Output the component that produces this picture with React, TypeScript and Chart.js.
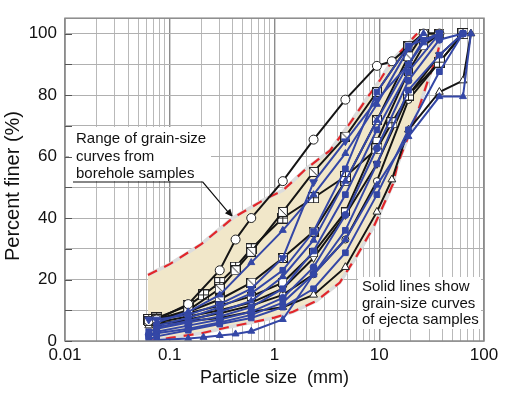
import React, { useEffect, useRef } from 'react';
import { Chart, registerables } from 'chart.js';
Chart.register(...registerables);

// ---- Range of grain-size curves from borehole samples (band) ----
const bandUpperX = [0.062, 0.1, 0.2, 0.4, 0.8, 1.2, 1.5, 2, 3.4, 5.3, 8, 10, 13.5, 18, 23];
const bandUpperY = [21.5, 25, 31.5, 40, 46, 49, 52, 56, 62, 71, 80, 84.5, 91.5, 96, 100];
const bandLowerX = [0.062, 0.1, 0.2, 0.35, 0.6, 1, 1.5, 2.5, 4.2, 6.1, 8.8, 13.5, 15, 19.7, 23.5, 30, 35, 40];
const bandLowerY = [0, 1, 2.5, 4.4, 6, 7.6, 9.5, 13, 19, 27.7, 37, 51, 57.6, 68, 75, 86, 92, 100];

// ---- Ejecta samples (black lines, white markers) ----
const k1X = [0.063, 0.075, 0.15, 0.3, 0.425, 0.6, 1.2, 2.36, 4.75, 9.5, 13.2, 26.5, 37.5];
const k1Y = [6.5, 7, 12, 23, 33, 40, 52, 65.5, 78.5, 89.5, 91, 100, 100];
const k2X = [0.063, 0.075, 0.15, 0.3, 0.425, 0.6, 1.2, 2.36, 4.75, 9.5, 19, 26.5, 37.5];
const k2Y = [6.5, 7, 10, 17, 23, 29, 42, 55, 66.5, 81, 96, 100, 100];
const k3X = [0.063, 0.075, 0.15, 0.21, 0.3, 0.425, 0.6, 1.2, 2.36, 4.75, 9.5, 13.2, 19, 37.5, 63];
const k3Y = [7, 7.5, 11.5, 15, 19, 24, 30, 40, 46.6, 53.5, 62.5, 71, 80, 90.7, 100];
const k4X = [0.063, 0.075, 0.15, 0.3, 0.6, 1.2, 2.36, 4.75, 9.5, 13.2, 19, 37.5, 63, 75];
const k4Y = [5, 5.5, 6.5, 7.5, 9.5, 11, 15, 24, 42, 52.5, 68.7, 81, 84.7, 100];
const k5X = [0.063, 0.075, 0.15, 0.3, 0.6, 1.2, 2.36, 4.75, 9.5, 19, 26.5, 37.5];
const k5Y = [6.5, 7, 9, 11.5, 14.5, 19, 28.7, 42, 65, 87.6, 96, 100];
const k6X = [0.075, 0.15, 0.3, 0.6, 1.2, 2.36, 4.75, 9.5, 19, 37.5, 63];
const k6Y = [6, 8, 10, 12.5, 17, 27, 41, 57.6, 80, 93, 100];
const k7X = [0.075, 0.15, 0.3, 0.6, 1.2, 2.36, 4.75, 9.5, 19, 37.5, 63];
const k7Y = [5.5, 7, 9, 11.5, 15, 21.7, 33, 52, 78.4, 90.7, 100];
const k8X = [0.075, 0.15, 0.3, 0.6, 1.2, 2.36, 4.75, 9.5, 19, 26.5];
const k8Y = [6.5, 9.5, 13.5, 19, 27, 35.6, 52, 71.8, 92.6, 100];

// ---- Ejecta samples (blue lines, blue markers) ----
const u1X = [0.063, 0.075, 0.15, 0.21, 0.3, 0.425, 0.6, 1.2, 2.36, 4.75, 9.5, 19, 37.5, 63, 75];
const u1Y = [0, 0.3, 0.8, 1.2, 1.8, 2.3, 3.2, 7, 21.7, 33, 50.7, 66.5, 79.5, 79.5, 100];
const u2X = [0.063, 0.075, 0.15, 0.3, 0.6, 1.2, 2.36, 4.75, 9.5, 19, 37.5, 63];
const u2Y = [0.5, 1.5, 3.5, 5.5, 7.5, 11, 17, 28.7, 47.6, 68.7, 87.6, 100];
const u3X = [0.063, 0.075, 0.15, 0.3, 0.6, 1.2, 2.36, 4.75, 9.5, 19, 26.5, 37.5];
const u3Y = [7, 7, 8.5, 12, 17, 27, 51.7, 65, 78.4, 90, 98, 100];
const u4X = [0.075, 0.15, 0.3, 0.6, 1.2, 2.36, 4.75, 9.5, 19, 26.5];
const u4Y = [6, 9.5, 15, 25.5, 36, 47.6, 61, 77, 95, 100];
const u5X = [0.063, 0.075, 0.15, 0.3, 0.6, 1.2, 2.36, 4.75, 9.5, 19, 37.5];
const u5Y = [3, 4, 6, 8, 11, 17, 29.3, 47.6, 68.7, 87.6, 100];
const u6X = [0.063, 0.075, 0.15, 0.3, 0.6, 1.2, 2.36, 4.75, 9.5, 19, 37.5, 63];
const u6Y = [2, 3, 5, 7, 9.5, 14, 24, 41, 62.7, 84.7, 98, 100];
const u7X = [0.063, 0.075, 0.15, 0.3, 0.6, 1.2, 2.36, 4.75, 9.5, 19, 37.5, 63];
const u7Y = [1.5, 2.5, 4, 6, 8.5, 12.5, 21.7, 36, 57.6, 81.6, 93, 100];
const u8X = [0.075, 0.15, 0.3, 0.6, 1.2, 2.36, 4.75, 9.5, 19, 26.5, 37.5];
const u8Y = [4.5, 6.5, 9.5, 13, 21, 32.8, 52, 71.8, 90, 97, 100];
const u9X = [0.075, 0.15, 0.3, 0.6, 1.2, 2.36, 4.75, 9.5, 19, 37.5];
const u9Y = [5, 7.5, 11, 15.5, 23, 35.6, 56, 81, 96, 100];

// ---- Axis / text ----
const yTickValues = [0, 10, 20, 30, 40, 50, 60, 70, 80, 90, 100];
const xDecades = [-2, -1, 0, 1];
const note1 = ['Range of grain-size', 'curves from', 'borehole samples'];
const note2 = ['Solid lines show', 'grain-size curves', 'of ejecta samples'];
const xTitle = 'Particle size  (mm)';
const yTitle = 'Percent finer (%)';

const FONT = '"Liberation Sans", Arial, Helvetica, sans-serif';
const BLACK = '#151515';
const BLUE = '#3447a6';

const pts = (xs: number[], ys: number[]) => xs.map((x, i) => ({ x, y: ys[i] }));
const isPow10 = (v: number) => Math.abs(Math.log10(v) - Math.round(Math.log10(v))) < 1e-6;

function makeSquare(kind: 'cross' | 'diag' | 'plain', size: number): HTMLCanvasElement {
  const c = document.createElement('canvas');
  c.width = size;
  c.height = size;
  const g = c.getContext('2d')!;
  g.fillStyle = '#fff';
  g.fillRect(0.5, 0.5, size - 1, size - 1);
  g.strokeStyle = '#222';
  g.lineWidth = 1;
  g.strokeRect(0.5, 0.5, size - 1, size - 1);
  g.beginPath();
  if (kind === 'cross') {
    g.moveTo(size / 2, 0.5);
    g.lineTo(size / 2, size - 0.5);
    g.moveTo(0.5, size / 2);
    g.lineTo(size - 0.5, size / 2);
  } else if (kind === 'diag') {
    g.moveTo(1, 1);
    g.lineTo(size - 1, size - 1);
  }
  g.stroke();
  return c;
}

export default function App() {
  const ref = useRef<HTMLCanvasElement>(null);

  useEffect(() => {
    if (!ref.current) return;
    const sqCross = makeSquare('cross', 11);
    const sqDiag = makeSquare('diag', 10);
    const sqPlain = makeSquare('plain', 9);

    const black = (xs: number[], ys: number[], style: any, rot = 0, r = 4.5) => ({
      data: pts(xs, ys),
      showLine: true,
      borderColor: BLACK,
      borderWidth: 2,
      pointStyle: style,
      pointRotation: rot,
      pointRadius: r,
      pointBackgroundColor: '#fff',
      pointBorderColor: '#222',
      pointBorderWidth: 1,
      order: 1,
    });
    const blue = (xs: number[], ys: number[], style: any, rot = 0, r = 4) => ({
      data: pts(xs, ys),
      showLine: true,
      borderColor: BLUE,
      borderWidth: 2,
      pointStyle: style,
      pointRotation: rot,
      pointRadius: r,
      pointBackgroundColor: BLUE,
      pointBorderColor: BLUE,
      pointBorderWidth: 1,
      order: 0,
    });

    const bandPoly = [...pts(bandUpperX, bandUpperY), ...pts(bandLowerX, bandLowerY).reverse()];

    const datasets: any[] = [
      {
        data: bandPoly,
        showLine: true,
        fill: 'shape',
        backgroundColor: '#f1e7c9',
        borderWidth: 0,
        borderColor: 'rgba(0,0,0,0)',
        pointRadius: 0,
        order: 10,
      },
      {
        data: pts(bandUpperX, bandUpperY),
        showLine: true,
        borderColor: '#dcdcdc',
        borderWidth: 3.5,
        pointRadius: 0,
        order: 9,
      },
      {
        data: pts(bandLowerX, bandLowerY),
        showLine: true,
        borderColor: '#dcdcdc',
        borderWidth: 3.5,
        pointRadius: 0,
        order: 9,
      },
      {
        data: pts(bandUpperX, bandUpperY),
        showLine: true,
        borderColor: '#e2262a',
        borderWidth: 2.2,
        borderDash: [10, 8],
        pointRadius: 0,
        order: 8,
      },
      {
        data: pts(bandLowerX, bandLowerY),
        showLine: true,
        borderColor: '#e2262a',
        borderWidth: 2.2,
        borderDash: [10, 8],
        pointRadius: 0,
        order: 8,
      },
      black(k1X, k1Y, 'circle'),
      black(k2X, k2Y, sqDiag),
      black(k3X, k3Y, sqCross),
      black(k4X, k4Y, 'triangle'),
      black(k5X, k5Y, sqPlain),
      black(k6X, k6Y, 'triangle', 180),
      black(k7X, k7Y, 'circle', 0, 3.5),
      black(k8X, k8Y, sqDiag),
      blue(u1X, u1Y, 'triangle'),
      blue(u2X, u2Y, 'rect'),
      blue(u3X, u3Y, 'triangle', 180, 4.5),
      blue(u4X, u4Y, 'triangle'),
      blue(u5X, u5Y, 'rect'),
      blue(u6X, u6Y, 'circle', 0, 3.5),
      blue(u7X, u7Y, 'rect'),
      blue(u8X, u8Y, 'triangle'),
      blue(u9X, u9Y, 'rect'),
    ];

    const notesPlugin = {
      id: 'notes',
      beforeDatasetsDraw(chart: any) {
        const ctx = chart.ctx;
        const xs = chart.scales.x;
        const ys = chart.scales.y;
        ctx.save();
        ctx.fillStyle = '#fff';
        ctx.fillRect(69, 127, 142, 54);
        ctx.fillRect(358, 277, 123, 52);
        ctx.fillStyle = '#111';
        ctx.font = `15px ${FONT}`;
        ctx.textBaseline = 'middle';
        ctx.textAlign = 'left';
        note1.forEach((t, i) => ctx.fillText(t, 76, 139 + i * 17.5));
        note2.forEach((t, i) => ctx.fillText(t, 362, 287 + i * 16.6));
        // arrow towards the upper boundary of the band
        const tx = xs.getPixelForValue(0.4);
        const ty = ys.getPixelForValue(40.3);
        ctx.strokeStyle = '#111';
        ctx.lineWidth = 1.2;
        ctx.beginPath();
        ctx.moveTo(73, 182);
        ctx.lineTo(tx - 30, 182);
        ctx.lineTo(tx - 3, ty - 3);
        ctx.stroke();
        const ang = Math.atan2(ty - 182, 30);
        ctx.beginPath();
        ctx.moveTo(tx, ty);
        ctx.lineTo(tx - 8 * Math.cos(ang) + 3.5 * Math.sin(ang), ty - 8 * Math.sin(ang) - 3.5 * Math.cos(ang));
        ctx.lineTo(tx - 8 * Math.cos(ang) - 3.5 * Math.sin(ang), ty - 8 * Math.sin(ang) + 3.5 * Math.cos(ang));
        ctx.closePath();
        ctx.fillStyle = '#111';
        ctx.fill();
        ctx.restore();
      },
      afterDatasetsDraw(chart: any) {
        const { ctx, chartArea } = chart;
        const ys = chart.scales.y;
        ctx.save();
        ctx.strokeStyle = '#8a8a8a';
        ctx.lineWidth = 1.5;
        ctx.strokeRect(chartArea.left, chartArea.top, chartArea.right - chartArea.left, chartArea.bottom - chartArea.top);
        ctx.strokeStyle = '#555';
        ctx.lineWidth = 1;
        yTickValues.forEach((v) => {
          const y = Math.round(ys.getPixelForValue(v)) + 0.5;
          ctx.beginPath();
          ctx.moveTo(chartArea.left, y);
          ctx.lineTo(chartArea.left + 7, y);
          ctx.stroke();
        });
        ctx.restore();
      },
      afterDraw(chart: any) {
        const ctx = chart.ctx;
        ctx.save();
        ctx.translate(13, 186);
        ctx.rotate(-Math.PI / 2);
        ctx.fillStyle = '#111';
        ctx.font = `20px ${FONT}`;
        ctx.textAlign = 'center';
        ctx.textBaseline = 'middle';
        ctx.fillText(yTitle, 0, 0);
        ctx.restore();
      },
    };

    const chart = new Chart(ref.current, {
      type: 'scatter',
      data: { datasets },
      plugins: [notesPlugin],
      options: {
        animation: false,
        responsive: false,
        events: [],
        layout: { padding: { left: 0, top: 8, right: 25, bottom: 0 } },
        plugins: { legend: { display: false }, tooltip: { enabled: false } },
        scales: {
          x: {
            type: 'logarithmic',
            min: 0.01,
            max: 100,
            afterBuildTicks: (scale: any) => {
              const t: any[] = [];
              xDecades.forEach((e) => {
                for (let m = 1; m <= 9; m++) t.push({ value: parseFloat((m * Math.pow(10, e)).toPrecision(3)) });
              });
              t.push({ value: 100 });
              scale.ticks = t;
            },
            afterFit: (scale: any) => {
              scale.height = 58;
            },
            ticks: {
              autoSkip: false,
              maxRotation: 0,
              padding: 4,
              color: '#111',
              font: { family: FONT, size: 17 },
              callback: (v: any) => (isPow10(Number(v)) ? String(Number(v)) : ''),
            },
            grid: {
              drawTicks: false,
              color: (c: any) => (c.tick && isPow10(c.tick.value) ? '#8c8c8c' : '#b9b9b9'),
              lineWidth: (c: any) => (c.tick && isPow10(c.tick.value) ? 1.4 : 1),
            },
            border: { display: false },
            title: {
              display: true,
              text: xTitle,
              color: '#111',
              font: { family: FONT, size: 18 },
              padding: { top: 0, bottom: 10 },
            },
          },
          y: {
            type: 'linear',
            min: 0,
            max: 105,
            afterBuildTicks: (scale: any) => {
              scale.ticks = yTickValues.map((value) => ({ value }));
            },
            afterFit: (scale: any) => {
              scale.width = 65;
            },
            ticks: {
              autoSkip: false,
              padding: 8,
              color: '#111',
              font: { family: FONT, size: 17 },
              callback: (v: any) => (Number(v) % 20 === 0 ? String(v) : ''),
            },
            grid: { drawTicks: false, color: '#b0b0b0', lineWidth: 1 },
            border: { display: false },
            title: { display: false },
          },
        },
      },
    } as any);
    return () => chart.destroy();
  }, []);

  return (
    <div style={{ position: 'absolute', left: 0, top: 0, width: 509, height: 399, background: '#fff' }}>
      <canvas ref={ref} width={509} height={399} style={{ display: 'block' }} />
    </div>
  );
}
